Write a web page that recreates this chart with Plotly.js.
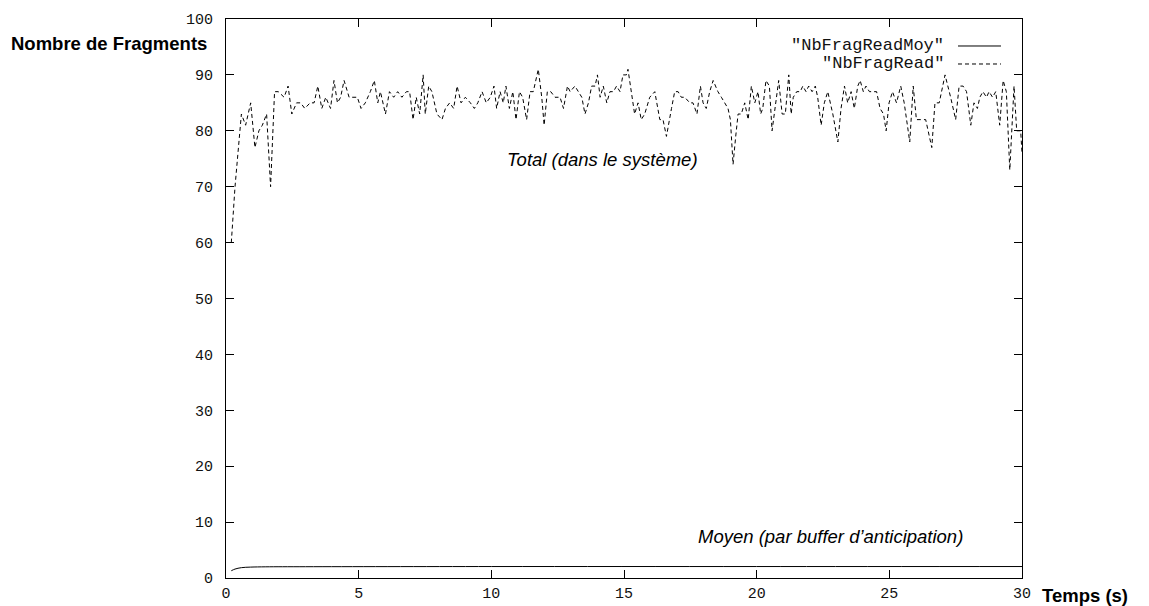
<!DOCTYPE html>
<html>
<head>
<meta charset="utf-8">
<script src="https://cdn.plot.ly/plotly-3.0.1.min.js"></script>
<style>html,body{margin:0;padding:0;background:#fff;}#chart{width:1149px;height:606px;}</style>
</head>
<body>
<div id="chart"></div>
<script>
// NbFragRead: time (s) and value
const readTime = [
  0.20,0.34,0.58,0.74,0.93,1.09,1.24,1.37,1.53,1.68,1.83,1.97,2.19,2.34,2.48,2.66,2.81,2.97,3.17,3.32,3.46,3.61,3.76,3.94,4.07,4.20,4.32,4.45,4.64,4.82,4.95,
  5.09,5.25,5.44,5.59,5.72,5.82,6.01,6.16,6.32,6.47,6.63,6.80,6.92,7.05,7.17,7.30,7.43,7.51,7.64,7.76,7.95,8.14,8.27,8.43,8.58,8.71,8.86,9.02,9.21,9.36,9.49,9.65,9.81,9.96,
  10.10,10.20,10.33,10.45,10.55,10.68,10.81,10.93,11.06,11.18,11.33,11.46,11.58,11.77,11.90,11.99,12.11,12.24,12.40,12.59,12.72,12.87,12.97,13.15,13.28,13.41,13.53,13.66,13.78,13.91,14.00,14.10,14.22,14.35,14.47,14.60,14.72,14.85,
  14.96,15.09,15.15,15.28,15.40,15.53,15.65,15.78,15.97,16.16,16.35,16.47,16.60,16.79,16.91,17.04,17.16,17.29,17.48,17.60,17.75,17.88,17.98,18.10,18.23,18.36,18.54,18.67,18.80,18.92,19.01,19.11,19.21,19.30,19.42,19.55,19.68,19.80,19.93,
  20.05,20.15,20.23,20.35,20.48,20.58,20.71,20.83,20.96,21.08,21.21,21.30,21.38,21.51,21.64,21.74,21.86,21.96,22.09,22.21,22.30,22.43,22.55,22.68,22.87,23.06,23.18,23.31,23.43,23.56,23.68,23.81,23.90,24.02,24.12,24.25,24.37,24.52,24.65,24.78,24.88,
  24.99,25.12,25.27,25.43,25.56,25.68,25.77,25.90,26.02,26.18,26.37,26.60,26.72,26.88,27.10,27.31,27.50,27.63,27.78,27.91,28.07,28.19,28.32,28.41,28.53,28.66,28.76,28.89,29.01,29.16,29.29,29.41,29.54,29.70,29.80,29.95,30.00
];
const readValue = [
  60,70,83,81,85,77,80,81,83,70,87,87,86,88,83,85,85,84,85,85,88,84,86,84,89,85,86,89,86,86,86,
  84,85,87,89,85,87,83,87,86,87,86,87,87,82,86,83,90,83,88,87,83,82,84,85,84,88,85,86,85,84,85,87,85,86,
  88,84,87,85,88,84,87,82,87,86,82,87,87,91,86,81,87,87,86,86,84,88,87,88,87,86,83,85,88,88,90,86,88,85,87,87,88,87,
  90,90,91,87,83,85,82,83,86,87,82,82,79,84,87,87,86,86,85,85,83,88,85,84,87,89,87,86,85,84,82,74,79,83,83,85,82,88,85,
  87,83,84,89,88,80,85,89,83,83,90,83,86,87,87,88,87,88,87,88,86,81,85,87,83,78,84,88,85,87,84,88,89,87,88,87,87,87,84,83,80,
  85,87,85,88,85,81,78,88,82,82,82,77,85,85,90,86,82,88,88,87,81,85,84,86,87,86,87,86,87,81,89,87,73,88,80,80,76
];
// NbFragReadMoy: time (s) and value
const moyTime  = [0.20, 0.34, 0.58, 0.93, 1.50, 3.00, 10.00, 20.00, 30.00];
const moyValue = [1.3, 1.6, 1.85, 1.95, 2.0, 2.02, 2.05, 2.05, 2.05];

const xTicks = [0, 5, 10, 15, 20, 25, 30];
const yTicks = [0, 10, 20, 30, 40, 50, 60, 70, 80, 90, 100];

const mono = 'Liberation Mono, Courier New, monospace';
const sans = 'Liberation Sans, Arial, sans-serif';

const traces = [
  {x: moyTime, y: moyValue, mode: 'lines', name: '"NbFragReadMoy"',
   line: {color: '#000', width: 1, shape: 'spline'}, showlegend: false},
  {x: readTime, y: readValue, mode: 'lines', name: '"NbFragRead"',
   line: {color: '#000', width: 1, dash: '4px,3px'}, showlegend: false}
];

const axisCommon = {
  showgrid: false, zeroline: false, showline: true, linecolor: '#000', linewidth: 1,
  mirror: 'ticks', ticks: 'inside', ticklen: 8, tickcolor: '#000', tickwidth: 1,
  tickfont: {family: mono, size: 15, color: '#111'}
};

const layout = {
  width: 1149, height: 606,
  margin: {l: 226, r: 127, t: 19, b: 28},
  paper_bgcolor: '#fff', plot_bgcolor: '#fff',
  xaxis: Object.assign({}, axisCommon, {range: [0, 30], tickvals: xTicks, ticktext: xTicks.map(String), ticklabelstandoff: 1}),
  yaxis: Object.assign({}, axisCommon, {range: [0, 100], tickvals: yTicks, ticktext: yTicks.map(String), ticklabelstandoff: 9}),
  showlegend: false,
  annotations: [
    {xref: 'paper', yref: 'paper', x: -0.272, y: 0.957, xanchor: 'left', yanchor: 'middle', showarrow: false,
     text: '<b>Nombre de Fragments</b>', font: {family: sans, size: 18.5, color: '#000'}},
    {xref: 'paper', yref: 'paper', x: 1.0226, y: -0.032, xanchor: 'left', yanchor: 'middle', showarrow: false,
     text: '<b>Temps (s)</b>', font: {family: sans, size: 18.5, color: '#000'}},
    {xref: 'x', yref: 'y', x: 14.2, y: 74.8, xanchor: 'center', yanchor: 'middle', showarrow: false,
     text: '<i>Total (dans le système)</i>', font: {family: sans, size: 18.5, color: '#000'}},
    {xref: 'x', yref: 'y', x: 22.77, y: 7.5, xanchor: 'center', yanchor: 'middle', showarrow: false,
     text: '<i>Moyen (par buffer d\u2019anticipation)</i>', font: {family: sans, size: 18.5, color: '#000'}},
    {xref: 'paper', yref: 'paper', x: 0.9045, y: 0.9517, xanchor: 'right', yanchor: 'middle', showarrow: false,
     text: '"NbFragReadMoy"', font: {family: mono, size: 17, color: '#111'}},
    {xref: 'paper', yref: 'paper', x: 0.9045, y: 0.9195, xanchor: 'right', yanchor: 'middle', showarrow: false,
     text: '"NbFragRead"', font: {family: mono, size: 17, color: '#111'}}
  ],
  shapes: [
    {type: 'line', xref: 'paper', yref: 'paper', x0: 0.9196, x1: 0.9736, y0: 0.9517, y1: 0.9517,
     line: {color: '#000', width: 1}},
    {type: 'line', xref: 'paper', yref: 'paper', x0: 0.9196, x1: 0.9736, y0: 0.9195, y1: 0.9195,
     line: {color: '#000', width: 1, dash: '4px,3px'}}
  ]
};

Plotly.newPlot('chart', traces, layout, {displayModeBar: false, staticPlot: true});
</script>
</body>
</html>
